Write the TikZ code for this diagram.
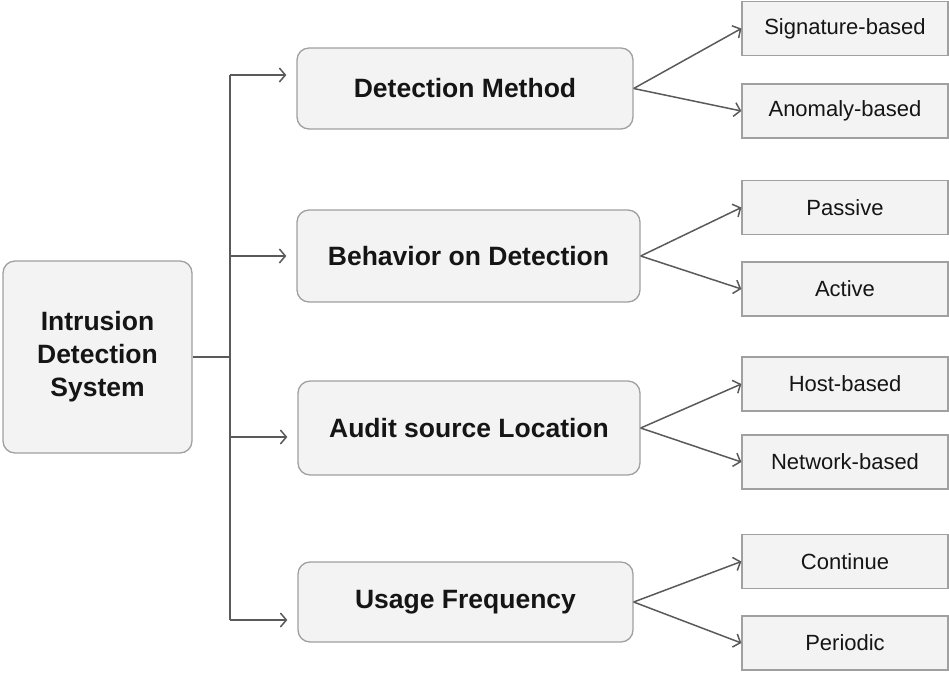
\documentclass[tikz,border=0pt]{standalone}
\usepackage{fontspec}
\setmainfont{Liberation Sans}
\usetikzlibrary{arrows.meta,calc}
\definecolor{boxfill}{HTML}{F3F3F3}
\definecolor{boxline}{HTML}{A0A0A0}
\definecolor{wire}{HTML}{5A5A5A}
\definecolor{ink}{HTML}{151515}
\tikzset{
  rootbox/.style={draw=boxline, line width=1.3pt, fill=boxfill, rounded corners=12pt,
    text=ink, font=\fontsize{26.5}{33}\selectfont\bfseries, align=center, inner sep=0pt},
  catbox/.style={draw=boxline, line width=1.3pt, fill=boxfill, rounded corners=12pt,
    text=ink, font=\fontsize{26.5}{33}\selectfont\bfseries, inner sep=0pt},
  leafbox/.style={draw=boxline, line width=1.3pt, fill=boxfill,
    text=ink, font=\fontsize{22}{26}\selectfont, inner sep=0pt,
    minimum width=206pt, minimum height=54pt},
  conn/.style={draw=wire, line width=1.5pt},
  arr/.style={conn, -{Straight Barb[length=6pt,width=14pt,line width=1.5pt]}}
}
\begin{document}
\begin{tikzpicture}[x=1pt,y=-1pt]
\useasboundingbox (0,0) rectangle (949,673);

% root
\node[rootbox, minimum width=189pt, minimum height=192pt] (ids) at (97.5,357)
  {Intrusion\\Detection\\System};

% categories
\node[catbox, minimum width=336pt, minimum height=81pt] (dm) at (465,88.5) {Detection Method};
\node[catbox, minimum width=343pt, minimum height=92pt] (bd) at (468.5,256) {Behavior on Detection};
\node[catbox, minimum width=342pt, minimum height=94pt] (as) at (469,428) {Audit source Location};
\node[catbox, minimum width=335pt, minimum height=80pt] (uf) at (465.5,602) {Usage Frequency};

% leaves
\node[leafbox] (sig)  at (845,28.5) {Signature-based};
\node[leafbox] (ano)  at (845,111)  {Anomaly-based};
\node[leafbox] (pas)  at (845,207.5){Passive};
\node[leafbox] (act)  at (845,289)  {Active};
\node[leafbox] (host) at (845,384)  {Host-based};
\node[leafbox] (net)  at (845,462)  {Network-based};
\node[leafbox] (cont) at (845,561.5){Continue};
\node[leafbox] (per)  at (845,643)  {Periodic};

% trunk
\coordinate (hub) at (230,357);
\coordinate (t1) at (230,75);
\coordinate (t2) at (230,256);
\coordinate (t3) at (230,437);
\coordinate (t4) at (230,620);
\draw[conn] (ids.east) -- (hub);
\draw[conn] (t1) -- (t4);
\draw[arr, shorten >=10pt] (t1) -- (t1 -| dm.west);
\draw[arr, shorten >=10pt] (t2) -- (t2 -| bd.west);
\draw[arr, shorten >=10pt] (t3) -- (t3 -| as.west);
\draw[arr, shorten >=10pt] (t4) -- (t4 -| uf.west);

% fan-out
\draw[arr] (dm.east) -- (sig.west);
\draw[arr] (dm.east) -- (ano.west);
\draw[arr] (bd.east) -- (pas.west);
\draw[arr] (bd.east) -- (act.west);
\draw[arr] (as.east) -- (host.west);
\draw[arr] (as.east) -- (net.west);
\draw[arr] (uf.east) -- (cont.west);
\draw[arr] (uf.east) -- (per.west);
\end{tikzpicture}
\end{document}
